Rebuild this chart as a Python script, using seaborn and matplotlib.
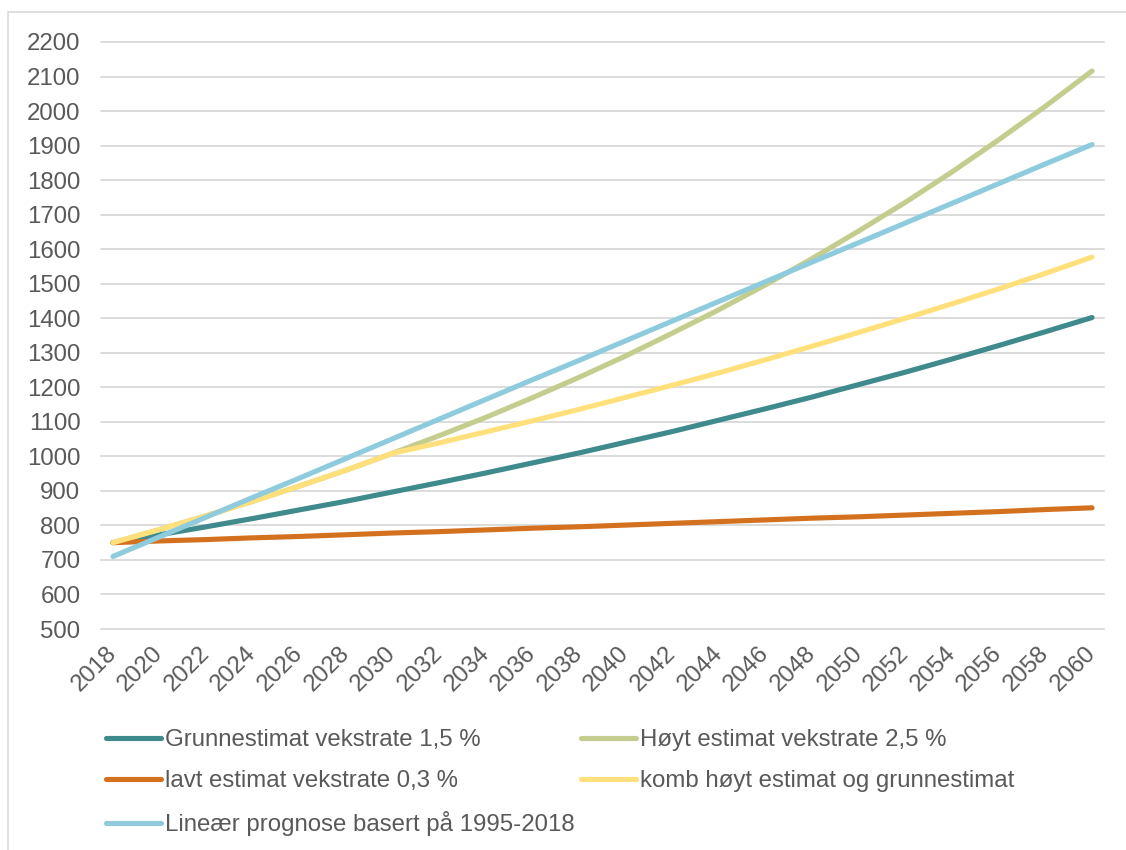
import matplotlib
matplotlib.use("Agg")
import matplotlib.pyplot as plt
import seaborn as sns
import pandas as pd
from matplotlib.patches import Rectangle
from matplotlib.lines import Line2D

years = list(range(2018, 2061, 2))
grunn = [750, 773, 796, 820, 845, 870, 897, 924, 952, 981, 1010, 1041,
         1072, 1105, 1138, 1172, 1208, 1244, 1282, 1321, 1361, 1402]
hoyt = [750, 788, 828, 870, 914, 960, 1009, 1060, 1113, 1170, 1229, 1291,
        1357, 1425, 1497, 1573, 1653, 1736, 1824, 1917, 2014, 2116]
lavt = [750, 755, 759, 764, 768, 773, 778, 782, 787, 792, 796, 801,
        806, 811, 816, 821, 825, 830, 835, 840, 846, 851]
komb = [750, 788, 828, 870, 914, 960, 1009, 1039, 1071, 1103, 1136, 1171,
        1206, 1242, 1280, 1319, 1359, 1400, 1442, 1485, 1530, 1577]
linear = [710, 767, 824, 881, 937, 994, 1051, 1108, 1165, 1222, 1278, 1335,
          1392, 1449, 1506, 1563, 1619, 1676, 1733, 1790, 1847, 1903]

names = ["Grunnestimat vekstrate 1,5 %", "Høyt estimat vekstrate 2,5 %",
         "lavt estimat vekstrate 0,3 %", "komb høyt estimat og grunnestimat",
         "Lineær prognose basert på 1995-2018"]
colors = ["#3F8A8C", "#C5CD8E", "#D4711F", "#FFE07A", "#8ECBDD"]
series = [grunn, hoyt, lavt, komb, linear]

rows = []
for n, s in zip(names, series):
    for y, v in zip(years, s):
        rows.append({"year": y, "value": v, "series": n})
df = pd.DataFrame(rows)

sns.set_theme(style="white")
plt.rcParams["font.family"] = ["Liberation Sans", "DejaVu Sans"]
txt = "#595959"
fs = 17.3

W, H = 1126, 850
fig = plt.figure(figsize=(W / 100, H / 100), dpi=100)
fig.patches.append(Rectangle((8 / W, -0.1), 1.2, 1 - 12 / H + 0.1, transform=fig.transFigure,
                             fill=False, edgecolor="#D9D9D9", linewidth=1.2))

left, right = 101.3, 1103.7
top, bottom = 42, 629
ax = fig.add_axes([left / W, 1 - bottom / H, (right - left) / W, (bottom - top) / H])

sns.lineplot(data=df, x="year", y="value", hue="series", hue_order=names,
             palette=dict(zip(names, colors)), linewidth=3.7, ax=ax, legend=False,
             solid_capstyle="round")

ax.set_xlim(2017.5, 2060.5)
ax.set_ylim(500, 2200)
ax.set_yticks(range(500, 2201, 100))
ax.set_xticks(years)
ax.set_xlabel("")
ax.set_ylabel("")
ax.grid(axis="y", color="#D9D9D9", linewidth=1.3)
ax.grid(axis="x", visible=False)
ax.set_axisbelow(True)
for sp in ax.spines.values():
    sp.set_visible(False)
ax.tick_params(axis="both", length=0, labelsize=fs, labelcolor=txt)
ax.tick_params(axis="y", pad=15)
ax.tick_params(axis="x", pad=15)
for lab in ax.get_xticklabels():
    lab.set_rotation(45)
    lab.set_ha("right")
    lab.set_va("center")
    lab.set_rotation_mode("anchor")
for gl in ax.get_ygridlines():
    gl.set_clip_on(False)

order = [0, 2, 4, 1, 3]
handles = [Line2D([0], [0], color=colors[i], linewidth=3.7, solid_capstyle="round") for i in order]
labels = [names[i] for i in order]
leg = fig.legend(handles, labels, loc="upper left", bbox_to_anchor=(106 / W, 1 - 729 / H),
                 ncol=2, frameon=False, fontsize=fs, handlelength=2.3, handletextpad=0.17,
                 columnspacing=0.25, labelspacing=0.8, borderpad=0, borderaxespad=0)
for t in leg.get_texts():
    t.set_color(txt)

fig.savefig("out.png", dpi=100, facecolor="white")
